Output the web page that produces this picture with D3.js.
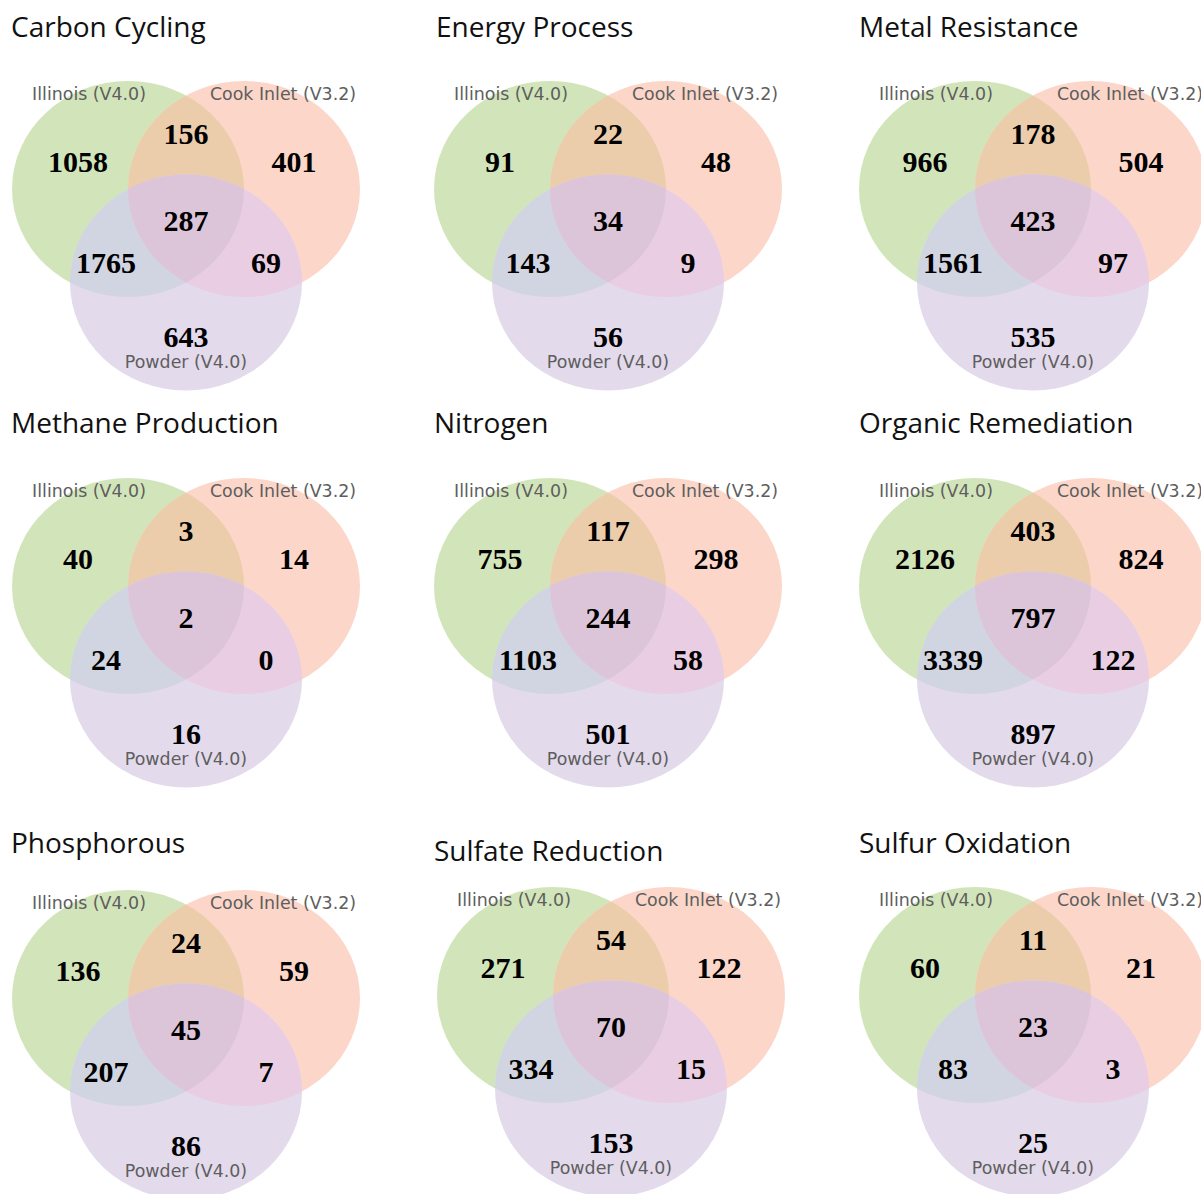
<!DOCTYPE html>
<html>
<head>
<meta charset="utf-8">
<script src="https://cdn.jsdelivr.net/npm/d3@7"></script>
<style>
  html, body { margin: 0; padding: 0; background: #ffffff; }
  svg { display: block; }
</style>
</head>
<body>
<svg id="chart" width="1201" height="1194"></svg>
<script>
// ---- Data -------------------------------------------------------------
const setNames = ["Illinois (V4.0)", "Cook Inlet (V3.2)", "Powder (V4.0)"];

// Region order: A only, B only, A∩B, C only, A∩C, B∩C, A∩B∩C
const regionKeys = ["100", "010", "110", "001", "101", "011", "111"];

const panelTitles = [
  "Carbon Cycling", "Energy Process", "Metal Resistance",
  "Methane Production", "Nitrogen", "Organic Remediation",
  "Phosphorous", "Sulfate Reduction", "Sulfur Oxidation"
];

const carbonCycling      = [1058, 401, 156, 643, 1765, 69, 287];
const energyProcess      = [91, 48, 22, 56, 143, 9, 34];
const metalResistance    = [966, 504, 178, 535, 1561, 97, 423];
const methaneProduction  = [40, 14, 3, 16, 24, 0, 2];
const nitrogen           = [755, 298, 117, 501, 1103, 58, 244];
const organicRemediation = [2126, 824, 403, 897, 3339, 122, 797];
const phosphorous        = [136, 59, 24, 86, 207, 7, 45];
const sulfateReduction   = [271, 122, 54, 153, 334, 15, 70];
const sulfurOxidation    = [60, 21, 11, 25, 83, 3, 23];

const panelValues = [
  carbonCycling, energyProcess, metalResistance,
  methaneProduction, nitrogen, organicRemediation,
  phosphorous, sulfateReduction, sulfurOxidation
];

// ---- Layout -----------------------------------------------------------
// Origin of each diagram (midpoint between the two upper circle centres)
// and the baseline of its title.
const panelLayout = [
  { ox: 186,  oy: 189, tx: 11,  ty: 37 },
  { ox: 608,  oy: 189, tx: 436, ty: 37 },
  { ox: 1033, oy: 189, tx: 859, ty: 37 },
  { ox: 186,  oy: 586, tx: 11,  ty: 433 },
  { ox: 608,  oy: 586, tx: 434, ty: 433 },
  { ox: 1033, oy: 586, tx: 859, ty: 433 },
  { ox: 186,  oy: 998, tx: 11,  ty: 853 },
  { ox: 611,  oy: 995, tx: 434, ty: 861 },
  { ox: 1033, oy: 995, tx: 859, ty: 853 }
];

const RX = 116, RY = 108;

// Unweighted three-circle geometry in unit-radius coordinates
const circleCentres = [
  { u: -0.5, v: 0 },
  { u: 0.5,  v: 0 },
  { u: 0,    v: Math.sqrt(3) / 2 }
];
const regionAnchors = {
  "100": { u: -0.93, v: -0.25 },
  "010": { u: 0.93,  v: -0.25 },
  "110": { u: 0,     v: -0.51 },
  "001": { u: 0,     v: 1.37 },
  "101": { u: -0.69, v: 0.685 },
  "011": { u: 0.69,  v: 0.685 },
  "111": { u: 0,     v: 0.29 }
};
const setLabelAnchors = [
  { u: -0.836, v: -0.88 },
  { u: 0.836,  v: -0.88 },
  { u: 0,      v: 1.60 }
];

const regionColors = {
  "100": "#d2e5ba",
  "010": "#fcd6c9",
  "001": "#e3daec",
  "110": "#ebcdab",
  "101": "#d0d5e1",
  "011": "#e9cde2",
  "111": "#dcc5d9"
};

// ---- Drawing ----------------------------------------------------------
const svg = d3.select("#chart");
const defs = svg.append("defs");

panelTitles.forEach((title, i) => {
  const L = panelLayout[i];
  const values = panelValues[i];
  const x = d3.scaleLinear().domain([-1, 1]).range([L.ox - RX, L.ox + RX]);
  const y = d3.scaleLinear().domain([-1, 1]).range([L.oy - RY, L.oy + RY]);
  const rx = x(1) - x(0), ry = y(1) - y(0);

  const g = svg.append("g").attr("class", "venn");

  // clip paths for each circle
  const clipIds = circleCentres.map((c, k) => {
    const id = `clip-${i}-${k}`;
    defs.append("clipPath").attr("id", id)
      .append("ellipse")
      .attr("cx", x(c.u)).attr("cy", y(c.v))
      .attr("rx", rx).attr("ry", ry);
    return id;
  });

  const ellipse = (sel, k, color) => sel.append("ellipse")
    .attr("cx", x(circleCentres[k].u)).attr("cy", y(circleCentres[k].v))
    .attr("rx", rx).attr("ry", ry)
    .attr("fill", color);

  // single sets
  ellipse(g, 0, regionColors["100"]);
  ellipse(g, 1, regionColors["010"]);
  ellipse(g, 2, regionColors["001"]);
  // pairwise overlaps
  ellipse(g.append("g").attr("clip-path", `url(#${clipIds[0]})`), 1, regionColors["110"]);
  ellipse(g.append("g").attr("clip-path", `url(#${clipIds[0]})`), 2, regionColors["101"]);
  ellipse(g.append("g").attr("clip-path", `url(#${clipIds[1]})`), 2, regionColors["011"]);
  // triple overlap
  ellipse(
    g.append("g").attr("clip-path", `url(#${clipIds[0]})`)
     .append("g").attr("clip-path", `url(#${clipIds[1]})`),
    2, regionColors["111"]);

  // region counts
  const numSize = 30;
  g.selectAll("text.count")
    .data(regionKeys.map((k, j) => ({ key: k, value: values[j] })))
    .join("text")
    .attr("class", "count")
    .attr("x", d => x(regionAnchors[d.key].u))
    .attr("y", d => y(regionAnchors[d.key].v) + numSize * 0.34)
    .attr("text-anchor", "middle")
    .attr("font-family", "'Liberation Serif', 'Times New Roman', serif")
    .attr("font-weight", "bold")
    .attr("font-size", numSize)
    .attr("fill", "#000")
    .text(d => d.value);

  // set labels
  const labSize = 17.4;
  g.selectAll("text.setlabel")
    .data(setNames)
    .join("text")
    .attr("class", "setlabel")
    .attr("x", (d, k) => x(setLabelAnchors[k].u))
    .attr("y", (d, k) => y(setLabelAnchors[k].v) + labSize * 0.36)
    .attr("text-anchor", "middle")
    .attr("font-family", "'DejaVu Sans', sans-serif")
    .attr("font-size", labSize)
    .attr("fill", "#5e5e5e")
    .text(d => d);

  // panel title
  svg.append("text")
    .attr("x", L.tx).attr("y", L.ty)
    .attr("font-family", "'Open Sans', 'Noto Sans', sans-serif")
    .attr("font-size", 28)
    .attr("fill", "#111")
    .text(title);
});
</script>
</body>
</html>
